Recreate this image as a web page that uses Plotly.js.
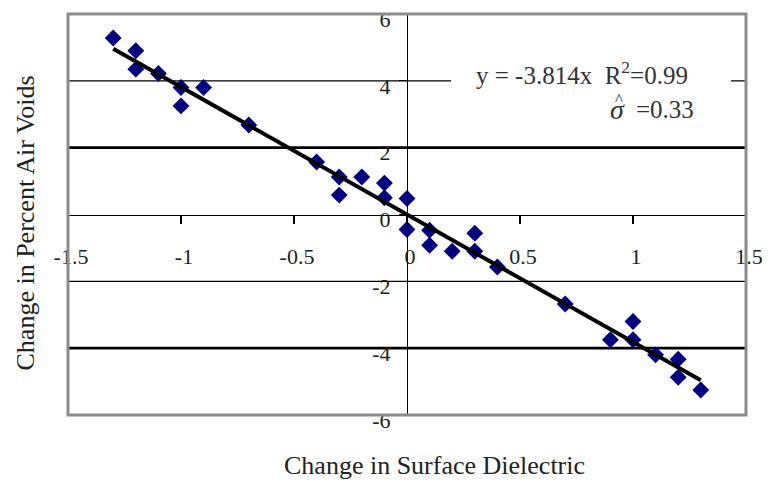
<!DOCTYPE html>
<html>
<head>
<meta charset="utf-8">
<script src="https://cdn.plot.ly/plotly-3.0.1.min.js"></script>
<style>html,body{margin:0;padding:0;background:#fff;}#chart{width:768px;height:483px;}</style>
</head>
<body>
<div id="chart"></div>
<script>
// Data
var dielectric = [-1.3, -1.2, -1.2, -1.1, -1.0, -1.0, -0.9, -0.7, -0.4, -0.3, -0.3, -0.2, -0.1, -0.1, 0.0, 0.0, 0.1, 0.1, 0.2, 0.3, 0.3, 0.4, 0.7, 0.9, 1.0, 1.0, 1.1, 1.2, 1.2, 1.3];
var airVoids   = [5.28, 4.9, 4.35, 4.22, 3.8, 3.25, 3.8, 2.68, 1.57, 1.12, 0.58, 1.12, 0.94, 0.5, 0.48, -0.45, -0.47, -0.92, -1.1, -0.56, -1.1, -1.57, -2.68, -3.75, -3.2, -3.75, -4.2, -4.33, -4.87, -5.25];
var slope = -3.814;
var fitX = [-1.3, 1.3];
var fitY = fitX.map(function (x) { return slope * x; });
var xTicks = [-1.5, -1, -0.5, 0, 0.5, 1, 1.5];
var xTickText = ['-1.5', '-1', '-0.5', '0', '0.5', '1', '1.5'];
var yTicks = [-6, -4, -2, 0, 2, 4, 6];
var yTickText = ['-6', '-4', '-2', '0', '2', '4', '6'];
var thinGrid = [4, -2];
var thickGrid = [2, -4];

var serif = 'Liberation Serif, Times New Roman, serif';

var traces = [
  {
    x: dielectric, y: airVoids, type: 'scatter', mode: 'markers',
    marker: {symbol: 'diamond', size: 13, color: '#000080'},
    hoverinfo: 'skip', showlegend: false
  },
  {
    x: fitX, y: fitY, type: 'scatter', mode: 'lines',
    line: {color: '#000000', width: 4},
    hoverinfo: 'skip', showlegend: false
  }
];

var shapes = [];
thinGrid.forEach(function (v) {
  shapes.push({type: 'line', xref: 'paper', yref: 'y', x0: 0, x1: 1, y0: v, y1: v,
    line: {color: '#000', width: 1.2}, layer: 'below'});
});
thickGrid.forEach(function (v) {
  shapes.push({type: 'line', xref: 'paper', yref: 'y', x0: 0, x1: 1, y0: v, y1: v,
    line: {color: '#000', width: 2.6}, layer: 'below'});
});
// white text box of the equation label
shapes.push({type: 'rect', xref: 'paper', yref: 'paper', x0: 0.565, x1: 0.978, y0: 0.795, y1: 0.87,
  fillcolor: '#fff', line: {width: 0}, layer: 'below'});
shapes.push({type: 'rect', xref: 'paper', yref: 'paper', x0: 0, x1: 1, y0: 0, y1: 1,
  line: {color: '#8c8c8c', width: 3}, layer: 'above'});

var layout = {
  width: 768, height: 483,
  margin: {l: 68, r: 22, t: 14, b: 68},
  paper_bgcolor: '#fff', plot_bgcolor: '#fff',
  showlegend: false,
  font: {family: serif, size: 20, color: '#222'},
  xaxis: {
    range: [-1.5, 1.5], anchor: 'free', position: 0.5,
    showgrid: false, zeroline: false,
    showline: true, linecolor: '#000', linewidth: 1.2,
    ticks: 'outside', ticklen: 8, tickwidth: 1.2, tickcolor: '#000',
    tickvals: xTicks, ticktext: xTickText,
    ticklabelstandoff: 14, ticklabelshift: 3, ticklabeloverflow: 'allow',
    tickfont: {family: serif, size: 22, color: '#222'}
  },
  yaxis: {
    range: [-6, 6], anchor: 'free', position: 0.5,
    showgrid: false, zeroline: false,
    showline: true, linecolor: '#000', linewidth: 1.2,
    ticks: 'outside', ticklen: 8, tickwidth: 1.2, tickcolor: '#000',
    tickvals: yTicks, ticktext: yTickText,
    ticklabelstandoff: 4, ticklabelshift: 5, ticklabeloverflow: 'allow',
    tickfont: {family: serif, size: 22, color: '#222'}
  },
  shapes: shapes,
  annotations: [
    {xref: 'paper', yref: 'paper', x: 0.917, y: 0.852, xanchor: 'right', yanchor: 'middle',
     text: 'y = -3.814x  R<sup>2</sup>=0.99', showarrow: false,
     font: {family: serif, size: 25, color: '#333'}},
    {xref: 'paper', yref: 'paper', x: 0.81, y: 0.762, xanchor: 'center', yanchor: 'middle',
     text: '<i>σ</i>', showarrow: false,
     font: {family: serif, size: 28, color: '#333'}},
    {xref: 'paper', yref: 'paper', x: 0.813, y: 0.787, xanchor: 'center', yanchor: 'middle',
     text: '^', showarrow: false,
     font: {family: serif, size: 17, color: '#333'}},
    {xref: 'paper', yref: 'paper', x: 0.926, y: 0.762, xanchor: 'right', yanchor: 'middle',
     text: '=0.33', showarrow: false,
     font: {family: serif, size: 25, color: '#333'}},
    {xref: 'paper', yref: 'paper', x: 0.54, y: -0.127, xanchor: 'center', yanchor: 'middle',
     text: 'Change in Surface Dielectric', showarrow: false,
     font: {family: serif, size: 26, color: '#222'}},
    {xref: 'paper', yref: 'paper', x: -0.062, y: 0.48, xanchor: 'center', yanchor: 'middle',
     text: 'Change in Percent Air Voids', textangle: -90, showarrow: false,
     font: {family: serif, size: 26, color: '#222'}}
  ]
};

Plotly.newPlot('chart', traces, layout, {staticPlot: true, displayModeBar: false});
</script>
</body>
</html>
